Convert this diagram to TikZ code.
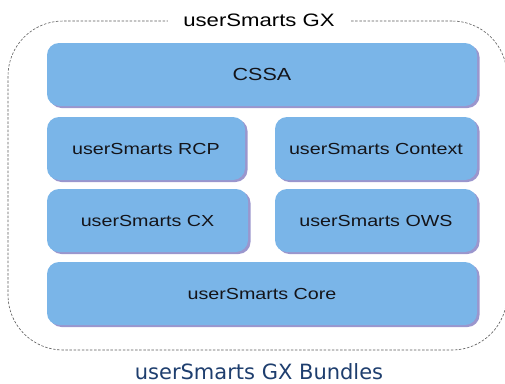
\documentclass[tikz,border=0pt]{standalone}
\usepackage{fontspec}
\setmainfont{Liberation Sans}
\newfontfamily\boxfont[FakeStretch=1.23]{Liberation Sans}
\newfontfamily\capfont{DejaVu Sans}
\usetikzlibrary{shadows}
\definecolor{boxblue}{RGB}{122,181,232}
\definecolor{boxshadow}{RGB}{155,150,205}
\definecolor{boxtext}{RGB}{20,20,25}
\definecolor{captionblue}{RGB}{30,62,110}
\definecolor{borderline}{RGB}{90,90,90}
\tikzset{
  layer/.style={rounded corners=12pt, fill=boxblue, inner sep=0pt,
    minimum height=63pt, text=boxtext,
    font=\boxfont\fontsize{16}{18}\selectfont,
    text height=11.5pt, text depth=0pt,
    general shadow={fill=boxshadow, shadow xshift=2.5pt, shadow yshift=-2pt}},
  bigtext/.style={font=\boxfont\fontsize{17.5}{20}\selectfont, text height=12.5pt},
  bundle/.style={draw=borderline, line width=0.6pt, dash pattern=on 2.5pt off 1.6pt, rounded corners=55pt},
}
\begin{document}
\begin{tikzpicture}[x=1pt,y=-1pt]
\useasboundingbox (0,0) rectangle (505,383);
\node[bundle, minimum width=499pt, minimum height=329pt, inner sep=0pt] (frame) at (257.5,185.5) {};
\node[fill=white, inner sep=0pt, minimum width=183pt, minimum height=16pt,
  font=\boxfont\fontsize{18}{20}\selectfont, text height=13pt, text depth=0pt] (title) at (259,19.5) {userSmarts GX};
\node[layer, bigtext, minimum width=430pt] (cssa) at (262,74.5) {CSSA};
\node[layer, minimum width=198pt] (rcp) at (146,148.5) {userSmarts RCP};
\node[layer, minimum width=202pt] (ctx) at (376,148.5) {userSmarts Context};
\node[layer, minimum width=201pt] (cx) at (147.5,220.5) {userSmarts CX};
\node[layer, minimum width=202pt] (ows) at (376,220.5) {userSmarts OWS};
\node[layer, minimum width=430pt] (core) at (262,293.5) {userSmarts Core};
\node[inner sep=0pt, text=captionblue, font=\capfont\fontsize{21}{24}\selectfont,
  text height=15.3pt, text depth=0pt] (caption) at (259,371.5) {userSmarts GX Bundles};
\end{tikzpicture}
\end{document}
